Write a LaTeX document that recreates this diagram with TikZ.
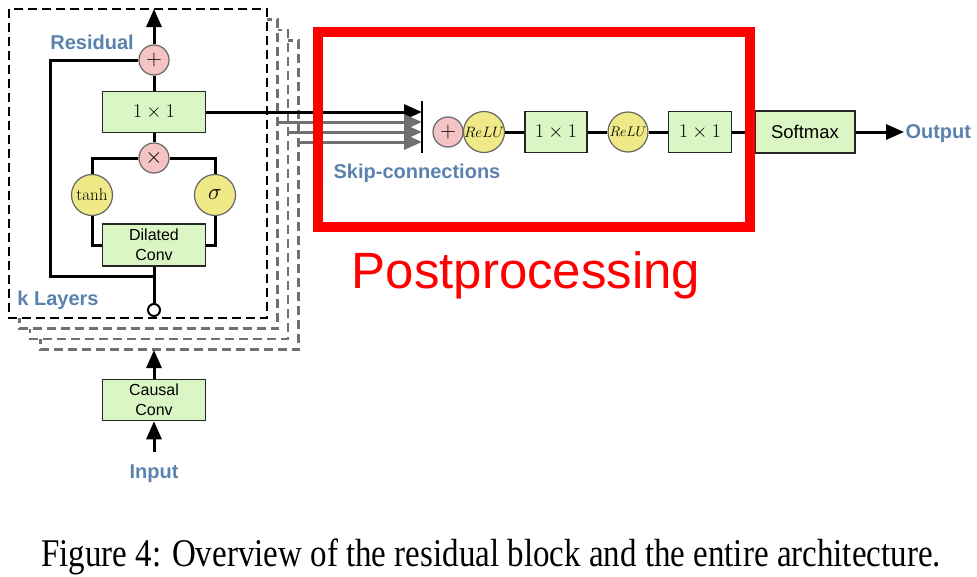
\RequirePackage{fix-cm}
\documentclass[tikz,border=0pt]{standalone}
\usepackage{fontspec}
\setsansfont{Liberation Sans}
\newfontfamily\capfont{Liberation Serif}
\usepackage{amsmath}
\usepackage{tikz}
\usetikzlibrary{positioning,arrows.meta}
\definecolor{lblblue}{RGB}{90,130,175}
\definecolor{boxgreen}{RGB}{218,246,196}
\definecolor{oppink}{RGB}{244,196,196}
\definecolor{actyellow}{RGB}{240,233,135}
\definecolor{skipgrey}{RGB}{112,112,112}
\tikzset{
  opbox/.style={rectangle, draw=black!85, line width=1.5pt, fill=boxgreen, minimum width=103pt, minimum height=41pt, inner sep=0pt, font=\sffamily\fontsize{16}{20}\selectfont, align=center},
  mathbox/.style={opbox, font=\fontsize{19.5}{22}\selectfont},
  mulop/.style={circle, draw=black!60, line width=1.2pt, fill=oppink, minimum size=30pt, inner sep=0pt, font=\fontsize{22}{22}\selectfont},
  actop/.style={circle, draw=black!60, line width=1.2pt, fill=actyellow, minimum size=41pt, inner sep=0pt, font=\fontsize{17}{17}\selectfont},
  lbl/.style={text=lblblue, font=\sffamily\bfseries\fontsize{20}{24}\selectfont, inner sep=0pt, anchor=base},
  layerbox/.style={dash pattern=on 9pt off 5pt, line width=2.3pt, fill=white},
}

\begin{document}
\begin{tikzpicture}[x=1pt, y=-1pt, line width=3pt, >={Triangle[length=18pt,width=15pt]}]
\useasboundingbox (0,0) rectangle (977,576);
\foreach \k in {3,2,1} {
  \draw[layerbox, draw=skipgrey] (9+10.5*\k,9+10.5*\k) rectangle (267+10.5*\k,318+10.5*\k);
}
\draw[layerbox, draw=black] (9,9) rectangle (267,318);

\node[mulop] (Add0) at (154,60) {$+$};
\node[mathbox] (Res0) at (154,112) {$1\times1$};
\node[mulop] (Mul0) at (154,158) {$\times$};
\node[actop] (Tanh0) at (92,195) {$\tanh$};
\node[actop, font=\fontsize{23}{23}\selectfont] (Sig0) at (215,195) {$\sigma$};
\node[opbox, minimum height=42pt] (Dil0) at (154,245) {Dilated\\Conv};
\node[circle, draw, line width=2pt, fill=white, minimum size=12pt, inner sep=0pt] (In0) at (154,310) {};
\node[opbox] (Causal) at (154,400) {Causal\\Conv};
\node[lbl] (Input) at (154,478) {Input};
\node[lbl] (ResLbl) at (92,49) {Residual};
\node[lbl] (KLbl) at (58,305) {k Layers};
\coordinate (Top) at (154,9);
\coordinate (Loop) at (154,276);
\coordinate (StackIn) at (154,350);

\draw[->] (Add0) -- (Top);
\draw (Res0) -- (Add0);
\draw (Mul0) -- (Res0);
\draw (Mul0.west) -| (Tanh0);
\draw (Mul0.east) -| (Sig0);
\draw (Tanh0.south) |- (Dil0.west);
\draw (Sig0.south) |- (Dil0.east);
\draw (In0) -- (Dil0);
\draw (Loop) -| (50,60) -- (Add0);
\draw[->] (Causal) -- (StackIn);
\draw[->, shorten <=11pt] (Input.north) -- (Causal);

\coordinate (Bar0) at (422,101);
\coordinate (Bar1) at (422,153);
\draw[line width=2.3pt] (Bar0) -- (Bar1);
\draw[->] (Res0.east) -- (Res0 -| Bar0);
\foreach \k in {1,2,3} {
  \coordinate (Skip\k) at (267+10.5*\k,112+10*\k);
  \draw[->, skipgrey] (Skip\k) -- (Skip\k -| Bar0);
}
\node[lbl] (SkipLbl) at (417,178) {Skip-connections};

\node[mulop] (Add1) at (448,132) {$+$};
\node[actop, font=\fontsize{15}{15}\selectfont] (Relu1) at (484,132) {$ReLU$};
\node[mathbox, minimum width=62pt] (Post1) at (556,132) {$1\times1$};
\node[actop, minimum size=40pt, font=\fontsize{14}{14}\selectfont] (Relu2) at (628,132) {$ReLU$};
\node[mathbox, minimum width=63pt] (Post2) at (700,132) {$1\times1$};
\node[opbox, minimum width=100pt, minimum height=42pt, font=\sffamily\fontsize{18.5}{22}\selectfont] (Soft) at (805,132) {Softmax};
\node[lbl, anchor=base west] (Out) at (904,138) {Output};
\draw (Relu1) -- (Post1) -- (Relu2) -- (Post2) -- (Soft);
\draw[->] (Soft) -- (Soft -| Out.west) ;

\draw[red, line width=10pt] (318,32) rectangle (750,227);
\node[text=red, font=\sffamily\fontsize{51}{60}\selectfont, inner sep=0pt, anchor=base] (Post) at (526,288) {Postprocessing};

\node[font=\capfont\fontsize{33}{38}\selectfont, inner sep=0pt, anchor=base] (Caption) at (491,566) {\scalebox{1}[1.19]{Figure 4: Overview of the residual block and the entire architecture.}};
\end{tikzpicture}
\end{document}
